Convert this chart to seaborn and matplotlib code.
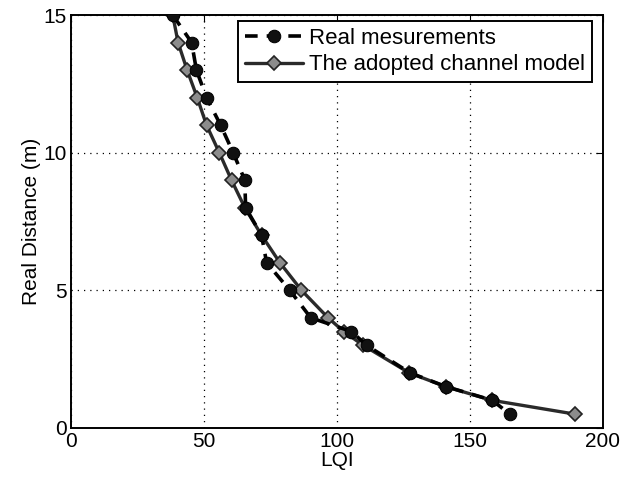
import seaborn as sns
import matplotlib.pyplot as plt
import pandas as pd

sns.set_style('white')
plt.rcParams['font.family'] = ['Liberation Sans', 'DejaVu Sans']
plt.rcParams['text.color'] = 'black'
plt.rcParams['axes.labelcolor'] = 'black'

# distances (m) and LQI readings
distance = [15, 14, 13, 12, 11, 10, 9, 8, 7, 6, 5, 4, 3.5, 3, 2, 1.5, 1, 0.5]
lqi_real = [38.3, 45.4, 47.2, 51.0, 56.3, 61.0, 65.4, 65.7, 71.7, 73.6,
            82.3, 90.2, 105.5, 111.2, 127.5, 141.0, 158.5, 165.0]
lqi_model = [38.3, 40.3, 43.7, 47.5, 51.0, 55.8, 60.4, 65.4, 71.7, 78.6,
             86.7, 96.7, 102.6, 109.9, 127.2, 140.9, 158.4, 189.5]

df_real = pd.DataFrame({'LQI': lqi_real, 'dist': distance})
df_model = pd.DataFrame({'LQI': lqi_model, 'dist': distance})

fig = plt.figure(figsize=(6.22, 4.84), dpi=100)
ax = fig.add_axes([0.114, 0.116, 0.855, 0.853])

sns.lineplot(x='LQI', y='dist', data=df_model, sort=False, ax=ax,
             color='#2a2a2a', lw=2.4, marker='D', markersize=7,
             markerfacecolor='#8c8c8c', markeredgecolor='#222222',
             markeredgewidth=1.2, label='The adopted channel model', zorder=2)
sns.lineplot(x='LQI', y='dist', data=df_real, sort=False, ax=ax,
             color='black', lw=2.6, linestyle=(0, (3.5, 2.5)), marker='o',
             markersize=9, markerfacecolor='#111111', markeredgecolor='black',
             label='Real mesurements', zorder=3)

ax.set_xlim(0, 200)
ax.set_ylim(0, 15)
ax.set_xticks([0, 50, 100, 150, 200])
ax.set_yticks([0, 5, 10, 15])
ax.grid(True, color='black', linestyle=(0, (1, 4)), linewidth=0.9)
ax.tick_params(direction='in', top=True, right=True, length=5, labelsize=15,
               colors='black', pad=3)
for s in ax.spines.values():
    s.set_color('black')
    s.set_linewidth(1.4)

ax.set_xlabel('LQI', fontsize=15, labelpad=0)
ax.set_ylabel('Real Distance (m)', fontsize=15, labelpad=2)

h, l = ax.get_legend_handles_labels()
leg = ax.legend(h[::-1], l[::-1], loc='upper right', bbox_to_anchor=(0.98, 0.985),
                fontsize=16, frameon=True, fancybox=False, framealpha=1,
                borderpad=0.3, labelspacing=0.25, handlelength=2.6, handletextpad=0.3,
                borderaxespad=0)
leg.get_frame().set_edgecolor('black')
leg.get_frame().set_linewidth(1.4)

plt.savefig('out.png', dpi=100)
plt.close()
